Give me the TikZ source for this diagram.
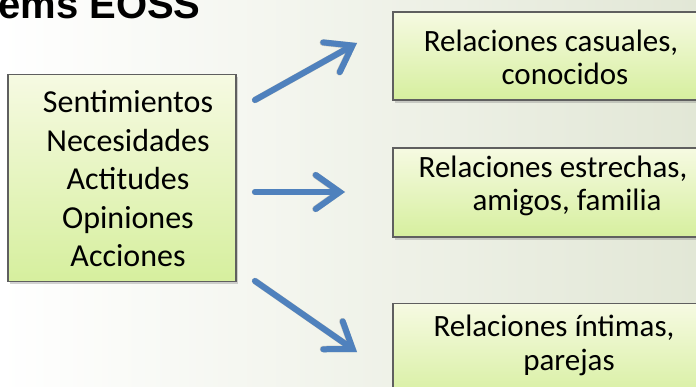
\documentclass[tikz,border=0pt]{standalone}
\usepackage{fontspec}
\setmainfont{Carlito}
\newfontfamily\titlefont{Liberation Sans}
\usetikzlibrary{arrows.meta,shadows}
\definecolor{bgR}{RGB}{226,231,214}
\definecolor{boxT}{RGB}{246,250,226}
\definecolor{boxB}{RGB}{214,239,158}
\definecolor{boxD}{RGB}{95,95,95}
\definecolor{arr}{RGB}{79,129,189}
\newcommand{\linesc}[1]{\begin{tabular}{@{}c@{}}#1\end{tabular}}
\begin{document}
\begin{tikzpicture}[x=1pt,y=-1pt,
  box/.style={draw=boxD, line width=1.2pt, top color=boxT, bottom color=boxB,
    drop shadow={opacity=0.35, shadow xshift=2pt, shadow yshift=-3pt},
    inner sep=0pt},
  lefttext/.style={inner sep=0pt, font=\fontsize{32}{38.5}\selectfont},
  righttext/.style={inner sep=0pt, font=\fontsize{31}{33}\selectfont},
  bluearrow/.style={draw=arr, line width=6pt, line cap=round,
    -{Straight Barb[length=24pt, width=34pt, line cap=round]}},
  arrowshade/.style={draw=black, opacity=0.18, line width=6.5pt, line cap=round,
    -{Straight Barb[length=24pt, width=34pt, line cap=round]}}]
\useasboundingbox (0,0) rectangle (696,387);
\clip (0,0) rectangle (696,387);
\shade[left color=white, right color=bgR] (0,0) rectangle (696,387);

\node[anchor=base west, inner sep=0pt, font=\titlefont\bfseries\fontsize{40}{42}\selectfont] (title) at (-2,19) {ems EOSS};

\node[box, minimum width=228pt, minimum height=207pt] (src) at (122,178) {};
\node[lefttext] (srctext) at (128,182.3)
  {\linesc{Sentimientos\\Necesidades\\Actitudes\\Opiniones\\Acciones}};

\node[box, minimum width=330pt, minimum height=88pt] (r1) at (558,56) {};
\node[righttext] (r1t) at (551,61.9) {\linesc{Relaciones casuales,\\\hspace*{28pt}conocidos}};
\node[box, minimum width=330pt, minimum height=89pt] (r2) at (558,192.5) {};
\node[righttext] (r2t) at (553,187.9) {\linesc{Relaciones estrechas,\\\hspace*{28pt}amigos, familia}};
\node[box, minimum width=330pt, minimum height=100pt, anchor=north] (r3) at (558,303) {};
\node[righttext] (r3t) at (554,346.9) {\linesc{Relaciones íntimas,\\\hspace*{30pt}parejas}};

\coordinate (a1s) at (255,100);
\coordinate (a1e) at (357,43);
\coordinate (a2s) at (255,192);
\coordinate (a2e) at (345,192);
\coordinate (a3s) at (255,281);
\coordinate (a3e) at (357,352);

\begin{scope}[shift={(2,4)}]
\draw[arrowshade] (a1s) -- (a1e);
\draw[arrowshade] (a2s) -- (a2e);
\draw[arrowshade] (a3s) -- (a3e);
\end{scope}
\draw[bluearrow] (a1s) -- (a1e);
\draw[bluearrow] (a2s) -- (a2e);
\draw[bluearrow] (a3s) -- (a3e);
\end{tikzpicture}
\end{document}
